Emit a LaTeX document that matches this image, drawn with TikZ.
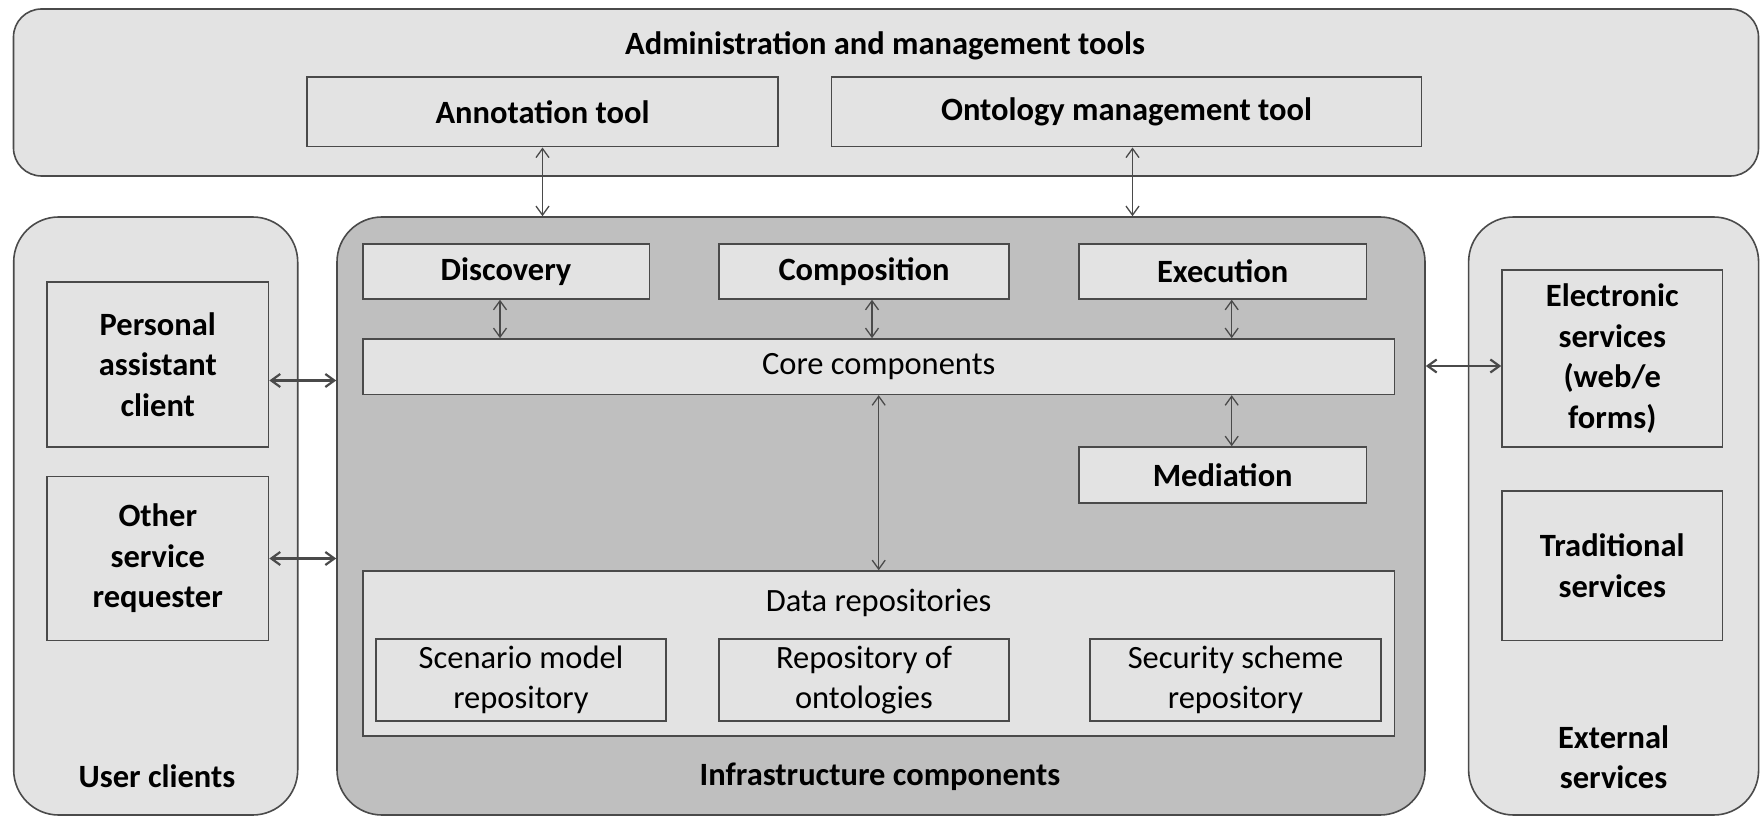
\documentclass[tikz,border=0pt]{standalone}
\usepackage{fontspec}
\setmainfont{Carlito}
\usetikzlibrary{arrows.meta,calc}
\definecolor{panelgray}{HTML}{E3E3E3}
\definecolor{coregray}{HTML}{BFBFBF}
\definecolor{edgegray}{HTML}{4A4A4A}
\begin{document}
\begin{tikzpicture}[x=1pt,y=-1pt,
  txt/.style={font=\fontsize{32.5}{40.5}\selectfont\bfseries, align=center, text=black},
  txtlight/.style={font=\fontsize{32.5}{40.5}\selectfont, align=center, text=black},
  panel/.style={draw=edgegray, line width=1.6pt, fill=panelgray, rounded corners=28pt},
  group/.style={draw=edgegray, line width=1.6pt, rounded corners=45pt},
  blk/.style={draw=edgegray, line width=1.5pt, fill=panelgray, inner sep=0pt, align=center},
  link/.style={draw=edgegray, line width=1.3pt,
    {Straight Barb[length=9pt,width=13pt]}-{Straight Barb[length=9pt,width=13pt]}},
  heavylink/.style={link, line width=2.2pt},
]
\useasboundingbox (0,0) rectangle (1762,818);
\fill[white] (0,0) rectangle (1762,818);

% top band: administration tools
\node[panel, minimum width=1745pt, minimum height=167pt] (admin) at (886,92.5) {};
\node[txt] (admintitle) at (885,46) {Administration and management tools};
\node[blk, txt, minimum width=471pt, minimum height=69.5pt] (annot) at (542.5,112) {Annotation tool};
\node[blk, txt, minimum width=590pt, minimum height=69.5pt] (onto) at (1126.5,112) {Ontology management tool};

% three column groups
\node[group, fill=panelgray, minimum width=284pt, minimum height=598pt] (users) at (155.7,516) {};
\node[group, fill=coregray, minimum width=1088pt, minimum height=598pt] (infra) at (881,516) {};
\node[group, fill=panelgray, minimum width=290pt, minimum height=598pt] (ext) at (1613.6,516) {};

% user clients
\node[blk, txt, minimum width=221.6pt, minimum height=165pt] (pac) at (157.8,364.5) {Personal\\assistant\\client};
\node[blk, txt, minimum width=221.6pt, minimum height=164pt] (osr) at (157.8,558.5) {Other\\service\\requester};
\node[txt] (userlbl) at (157,776.5) {User clients};

% infrastructure components
\node[blk, txt, minimum width=286.5pt, minimum height=55pt] (disc) at (506,271.5) {Discovery};
\node[blk, txt, minimum width=290pt, minimum height=55pt] (comp) at (864,271.5) {Composition};
\node[blk, txt, minimum width=287.5pt, minimum height=55pt] (exec) at (1222.7,271.5) {Execution};
\node[blk, txtlight, minimum width=1031.5pt, minimum height=55.5pt] (core) at (878.7,366.7) {Core components};
\node[blk, txt, minimum width=287.5pt, minimum height=56pt] (med) at (1222.7,475) {Mediation};
\node[blk, minimum width=1031.5pt, minimum height=165pt] (data) at (878.7,653.5) {};
\node[txtlight] (datalbl) at (878.7,603) {Data repositories};
\node[blk, txtlight, minimum width=290pt, minimum height=82pt] (scen) at (521,680) {Scenario model\\repository};
\node[blk, txtlight, minimum width=290pt, minimum height=82pt] (ronto) at (864,680) {Repository of\\ontologies};
\node[blk, txtlight, minimum width=291pt, minimum height=82pt] (sec) at (1235.5,680) {Security scheme\\repository};
\node[txt] (infralbl) at (880,776.5) {Infrastructure components};

% external services
\node[blk, txt, minimum width=220.6pt, minimum height=177pt] (elec) at (1612.3,358.5) {Electronic\\services\\(web/e\\forms)};
\node[blk, txt, minimum width=220.6pt, minimum height=149.5pt] (trad) at (1612.3,565.7) {Traditional\\services};
\node[txt] (extlbl) at (1613.6,757) {External\\services};

% connectors
\draw[link] (annot.south) -- (annot.south |- infra.north);
\draw[link] ([xshift=6pt]onto.south) -- ([xshift=6pt]onto.south |- infra.north);
\draw[link] ([xshift=-6pt]disc.south) -- ([xshift=-6pt]disc.south |- core.north);
\draw[link] ([xshift=8pt]comp.south) -- ([xshift=8pt]comp.south |- core.north);
\draw[link] ([xshift=9pt]exec.south) -- ([xshift=9pt]exec.south |- core.north);
\draw[link] ([xshift=9pt]med.north) -- ([xshift=9pt]med.north |- core.south);
\draw[link] (core.south) -- (data.north);
\draw[heavylink] ([yshift=-16pt]pac.east) -- ([yshift=-16pt]pac.east -| infra.west);
\draw[heavylink] (osr.east) -- (osr.east -| infra.west);
\draw[heavylink] ([yshift=-7.5pt]elec.west -| infra.east) -- ([yshift=-7.5pt]elec.west);
\end{tikzpicture}
\end{document}
